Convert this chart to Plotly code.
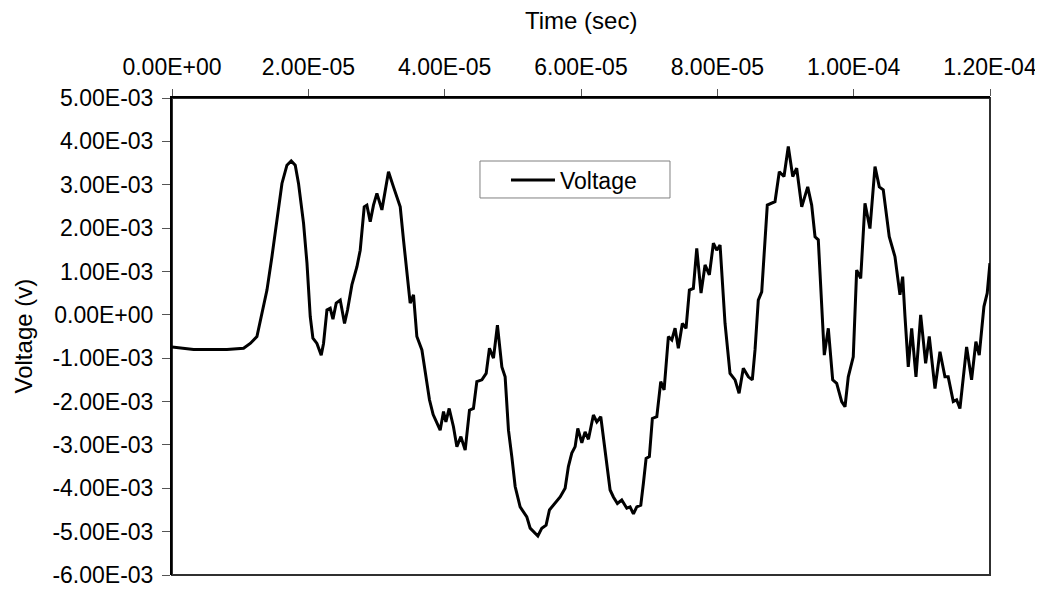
import plotly.graph_objects as go

# Time in microseconds, voltage in millivolts
time_us = [0.00, 3.17, 5.62, 8.06, 10.50, 11.48, 12.46, 12.95, 13.93, 14.66, 15.40, 16.13, 16.86, 17.49,
           18.08, 18.56, 19.30, 19.80, 20.28, 20.67, 21.26, 21.89, 22.23, 22.73, 23.21, 23.61, 24.09,
           24.68, 25.31, 25.75, 26.39, 27.13, 27.61, 28.20, 28.59, 29.08, 29.56, 30.06, 30.79, 31.76,
           32.49, 33.48, 33.96, 34.46, 34.94, 35.43, 35.92, 36.66, 37.39, 37.77, 38.31, 39.34, 39.83,
           40.18, 40.66, 41.29, 41.79, 42.38, 43.01, 43.64, 44.22, 44.72, 45.46, 46.09, 46.57, 47.16,
           47.74, 48.39, 48.87, 49.36, 49.85, 50.34, 51.07, 52.05, 52.54, 53.67, 54.25, 54.88, 55.37,
           56.20, 56.94, 57.67, 58.15, 58.65, 59.14, 59.53, 60.12, 60.60, 61.09, 61.82, 62.32, 62.90,
           63.39, 63.78, 64.27, 64.75, 65.34, 65.98, 66.72, 67.20, 67.69, 68.18, 68.77, 69.15, 69.55,
           70.03, 70.47, 71.12, 71.70, 72.19, 72.82, 73.32, 73.80, 74.28, 74.87, 75.41, 75.90, 76.48,
           76.98, 77.61, 78.20, 78.83, 79.42, 79.91, 80.40, 81.13, 81.86, 82.60, 83.19, 83.81, 84.55,
           85.13, 85.53, 86.01, 86.51, 87.00, 87.33, 88.46, 89.09, 89.78, 90.41, 91.06, 91.64, 92.38,
           93.26, 93.84, 94.33, 94.81, 95.31, 95.69, 96.28, 96.92, 97.51, 98.24, 98.73, 99.21, 99.94,
           100.44, 101.03, 101.66, 102.39, 103.13, 103.76, 104.34, 105.22, 106.06, 106.79, 107.19,
           107.53, 108.01, 108.51, 109.14, 109.83, 110.56, 111.09, 111.93, 112.66, 113.39, 113.87,
           114.61, 115.10, 115.59, 116.57, 117.30, 117.93, 118.42, 119.11, 119.59, 119.99]
voltage_mv = [-0.74, -0.80, -0.80, -0.80, -0.77, -0.66, -0.50, -0.12, 0.57, 1.34, 2.26, 3.03, 3.45, 3.55,
              3.45, 3.03, 2.11, 1.19, -0.04, -0.54, -0.66, -0.93, -0.66, 0.11, 0.15, -0.10, 0.27,
              0.34, -0.20, 0.11, 0.69, 1.11, 1.49, 2.49, 2.53, 2.15, 2.53, 2.80, 2.42, 3.30,
              2.95, 2.49, 1.73, 0.96, 0.27, 0.46, -0.50, -0.81, -1.50, -1.96, -2.30, -2.66, -2.23,
              -2.47, -2.16, -2.58, -3.04, -2.81, -3.12, -2.20, -2.16, -1.54, -1.50, -1.35, -0.77, -1.00,
              -0.24, -1.20, -1.43, -2.66, -3.27, -3.96, -4.43, -4.66, -4.92, -5.10, -4.92, -4.85, -4.50,
              -4.35, -4.20, -4.00, -3.50, -3.19, -3.04, -2.62, -2.95, -2.70, -2.87, -2.31, -2.47, -2.35,
              -2.96, -3.35, -4.04, -4.20, -4.35, -4.27, -4.46, -4.43, -4.59, -4.43, -4.39, -3.89, -3.31,
              -3.27, -2.39, -2.35, -1.54, -1.73, -0.50, -0.58, -0.31, -0.77, -0.20, -0.31, 0.57, 0.61,
              1.53, 0.50, 1.15, 0.92, 1.65, 1.49, 1.61, -0.20, -1.35, -1.50, -1.81, -1.23, -1.43,
              -1.50, -0.81, 0.34, 0.53, 1.73, 2.53, 2.61, 3.30, 3.19, 3.88, 3.19, 3.38, 2.49,
              2.95, 2.53, 1.80, 1.73, 0.27, -0.93, -0.31, -1.50, -1.58, -2.00, -2.12, -1.43, -0.97,
              1.03, 0.84, 2.57, 1.99, 3.42, 2.95, 2.88, 1.80, 1.34, 0.46, 0.88,
              -0.04, -1.20, -0.31, -1.43, 0.00, -1.12, -0.50, -1.70, -0.85, -1.43, -1.43,
              -2.00, -1.96, -2.16, -0.74, -1.50, -0.62, -0.93, 0.19, 0.50, 1.19]

x_tick_vals = [0, 2e-5, 4e-5, 6e-5, 8e-5, 1e-4, 1.2e-4]
x_tick_text = ["0.00E+00", "2.00E-05", "4.00E-05", "6.00E-05", "8.00E-05", "1.00E-04", "1.20E-04"]
y_tick_vals = [5e-3, 4e-3, 3e-3, 2e-3, 1e-3, 0, -1e-3, -2e-3, -3e-3, -4e-3, -5e-3, -6e-3]
y_tick_text = ["5.00E-03", "4.00E-03", "3.00E-03", "2.00E-03", "1.00E-03", "0.00E+00",
               "-1.00E-03", "-2.00E-03", "-3.00E-03", "-4.00E-03", "-5.00E-03", "-6.00E-03"]

t_sec = [t * 1e-6 for t in time_us]
v_volt = [v * 1e-3 for v in voltage_mv]

FONT = "Liberation Sans, Arial, sans-serif"
TICK_FS = 23
TITLE_FS = 24

fig = go.Figure()
fig.add_trace(go.Scatter(x=t_sec, y=v_volt, mode="lines", name="Voltage",
                         line=dict(color="black", width=3)))

fig.update_layout(
    width=1035, height=583,
    margin=dict(l=164, r=53, t=90, b=16),
    paper_bgcolor="white", plot_bgcolor="white",
    font=dict(family=FONT, size=TICK_FS, color="black"),
    showlegend=True,
    legend=dict(x=0.4083, y=0.828, xanchor="left", yanchor="middle",
                borderwidth=0, bgcolor="rgba(0,0,0,0)",
                font=dict(size=TICK_FS), itemwidth=44),
    shapes=[
        dict(type="rect", xref="paper", yref="paper", x0=0, y0=0, x1=1, y1=1,
             line=dict(color="#303030", width=2), layer="below"),
        dict(type="rect", xref="paper", yref="paper", x0=0.3765, y0=0.7904, x1=0.6088, y1=0.8679,
             line=dict(color="#808080", width=1), fillcolor="white", layer="below"),
    ],
    annotations=[
        dict(text="Time (sec)", xref="paper", yref="paper", x=0.5, y=1, yshift=78,
             xanchor="center", yanchor="middle", showarrow=False, font=dict(size=TITLE_FS)),
        dict(text="Voltage (v)", xref="paper", yref="paper", x=0, y=0.5, xshift=-149,
             xanchor="center", yanchor="middle", textangle=-90, showarrow=False,
             font=dict(size=TITLE_FS)),
    ],
)
fig.update_xaxes(range=[0, 1.2e-4], side="top", tickvals=x_tick_vals, ticktext=x_tick_text,
                 ticks="outside", ticklen=7, tickcolor="#555555", showgrid=False, zeroline=False,
                 showline=True, linecolor="black", linewidth=2, automargin=False,
                 ticklabelstandoff=5)
fig.update_yaxes(range=[-6e-3, 5e-3], tickvals=y_tick_vals, ticktext=y_tick_text,
                 ticks="outside", ticklen=8, tickcolor="#555555", showgrid=False, zeroline=False,
                 showline=True, linecolor="black", linewidth=2, automargin=False,
                 ticklabelstandoff=4)

fig.write_html("out.html")
